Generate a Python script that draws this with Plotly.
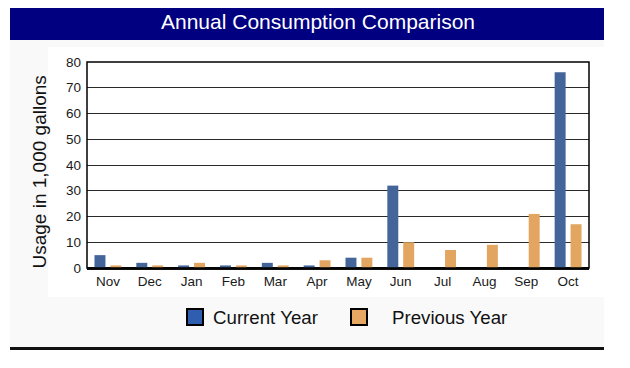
import plotly.graph_objects as go

months = ["Nov", "Dec", "Jan", "Feb", "Mar", "Apr", "May", "Jun", "Jul", "Aug", "Sep", "Oct"]
current_year = [5, 2, 1, 1, 2, 1, 4, 32, 0, 0, 0, 76]
previous_year = [1, 1, 2, 1, 1, 3, 4, 10, 7, 9, 21, 17]
y_ticks = [0, 10, 20, 30, 40, 50, 60, 70, 80]

OFF = 8  # page body margin
W, H = 630 - OFF, 368 - OFF
# plot area in screen (reference) pixels
L, R, T, B = 87, 589, 62, 268
FONT = "Liberation Sans, Arial, sans-serif"


def px(x):
    return (x - L) / (R - L)


def py(y):
    return (B - y) / (B - T)


fig = go.Figure()
fig.add_trace(go.Bar(x=months, y=current_year, name="Current Year",
                     marker=dict(color="#44659A", line=dict(width=0))))
fig.add_trace(go.Bar(x=months, y=previous_year, name="Previous Year",
                     marker=dict(color="#E3A660", line=dict(width=0))))

shapes = [
    dict(type="rect", xref="paper", yref="paper", x0=px(10), x1=px(604), y0=py(40), y1=py(3),
         fillcolor="#000080", line=dict(width=0), layer="below"),
    dict(type="rect", xref="paper", yref="paper", x0=px(10), x1=px(604), y0=py(347), y1=py(40),
         fillcolor="#F9F9F9", line=dict(width=0), layer="below"),
    dict(type="rect", xref="paper", yref="paper", x0=px(48), x1=px(604), y0=py(297), y1=py(47),
         fillcolor="#FFFFFF", line=dict(width=0), layer="below"),
    dict(type="line", xref="paper", yref="paper", x0=px(10), x1=px(604), y0=py(348.5), y1=py(348.5),
         line=dict(color="#111111", width=3)),
    dict(type="rect", xref="paper", yref="paper", x0=0, x1=1, y0=0, y1=1,
         line=dict(color="#000000", width=1.5)),
    dict(type="rect", xref="paper", yref="paper", x0=px(187), x1=px(203), y0=py(325), y1=py(309),
         fillcolor="#2F5DB0", line=dict(color="#000000", width=2)),
    dict(type="rect", xref="paper", yref="paper", x0=px(351), x1=px(367), y0=py(325), y1=py(309),
         fillcolor="#E6A862", line=dict(color="#000000", width=2)),
]

annotations = [
    dict(text="Annual Consumption Comparison", xref="paper", yref="paper", x=px(317.5), y=py(21.5),
         showarrow=False, xanchor="center", yanchor="middle",
         font=dict(family=FONT, size=21, color="#FFFFFF")),
    dict(text="Usage in 1,000 gallons", xref="paper", yref="paper", x=px(38.5), y=py(172),
         showarrow=False, textangle=-90, xanchor="center", yanchor="middle",
         font=dict(family=FONT, size=19, color="#111111")),
    dict(text="Current Year", xref="paper", yref="paper", x=px(211), y=py(317),
         showarrow=False, xanchor="left", yanchor="middle",
         font=dict(family=FONT, size=18.7, color="#111111")),
    dict(text="Previous Year", xref="paper", yref="paper", x=px(390), y=py(317),
         showarrow=False, xanchor="left", yanchor="middle",
         font=dict(family=FONT, size=18.7, color="#111111")),
]

fig.update_layout(
    width=W, height=H,
    margin=dict(l=L - OFF, r=W - (R - OFF), t=T - OFF, b=H - (B - OFF), pad=0),
    paper_bgcolor="#FFFFFF", plot_bgcolor="#FFFFFF",
    barmode="group", bargap=0.24, bargroupgap=0.31,
    showlegend=False,
    font=dict(family=FONT, size=13, color="#222222"),
    shapes=shapes, annotations=annotations,
    xaxis=dict(showgrid=False, ticks="", ticklabelstandoff=3,
               tickfont=dict(size=13.5, color="#1A1A1A"),
               showline=False, fixedrange=True),
    yaxis=dict(range=[0, 80], tickvals=y_ticks, showgrid=True, gridcolor="#2A2A2A", gridwidth=1,
               zeroline=True, zerolinecolor="#111111", zerolinewidth=3,
               ticks="", ticklabelstandoff=5, tickfont=dict(size=13.5, color="#1A1A1A"),
               showline=False, fixedrange=True),
)

fig.write_html("out.html")
